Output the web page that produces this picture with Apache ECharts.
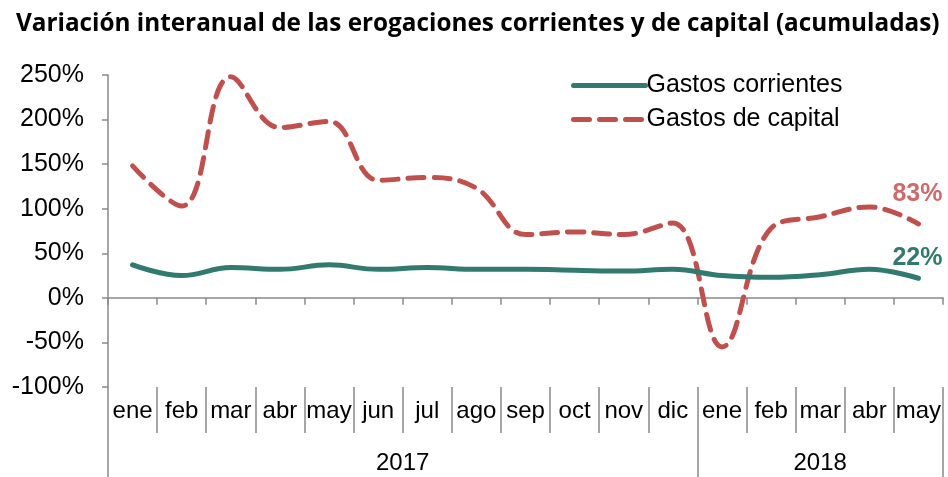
<!DOCTYPE html>
<html>
<head>
<meta charset="utf-8">
<script src="https://cdn.jsdelivr.net/npm/echarts@6/dist/echarts.min.js"></script>
<style>
  html, body { margin: 0; padding: 0; background: #fff; }
  #main { width: 948px; height: 477px; }
</style>
</head>
<body>
<div id="main"></div>
<script>
// meses y años del eje
var months = ['ene', 'feb', 'mar', 'abr', 'may', 'jun', 'jul', 'ago', 'sep', 'oct', 'nov', 'dic',
              'ene', 'feb', 'mar', 'abr', 'may'];
var years = ['2017', '2018'];
var yearSpans = [12, 5];

// variación interanual en %
var corrientes = [37, 25, 34, 32, 37, 32, 34, 32, 32, 31, 30, 32, 25, 23, 26, 32, 22];
var capital = [148, 103, 248, 191, 198, 132, 135, 123, 71, 74, 71, 84, -55, 78, 91, 102, 83];

// bordes y centros de cada año sobre el eje de 0..17
var yearEdges = [0];
var yearCenters = [];
yearSpans.forEach(function (s, i) {
  yearCenters.push(yearEdges[i] + s / 2);
  yearEdges.push(yearEdges[i] + s);
});

var axisGrey = '#898989';
var labelFont = 'Liberation Sans';
var chart = echarts.init(document.getElementById('main'));

var option = {
  animation: false,
  title: {
    text: 'Variación interanual de las erogaciones corrientes y de capital (acumuladas)',
    left: 11,
    top: 7,
    textStyle: { fontFamily: 'Open Sans', fontWeight: 'bold', fontSize: 24.3, color: '#000' }
  },
  legend: {
    orient: 'vertical',
    left: 566,
    top: 68,
    itemWidth: 72,
    itemHeight: 14,
    itemGap: 9,
    itemStyle: { opacity: 0 },
    lineStyle: { width: 5, cap: 'round' },
    textStyle: { fontFamily: labelFont, fontSize: 25, color: '#000', padding: [0, 0, 0, -4] },
    data: ['Gastos corrientes', 'Gastos de capital']
  },
  grid: { left: 108, right: 5, top: 75, bottom: 90, containLabel: false },
  xAxis: [
    {
      type: 'category',
      data: months,
      boundaryGap: true,
      axisLine: { onZero: true, lineStyle: { color: axisGrey, width: 1.5 } },
      axisTick: { show: true, length: 7, lineStyle: { color: axisGrey, width: 1.5 } },
      axisLabel: { show: false }
    },
    {
      type: 'category',
      data: months,
      position: 'bottom',
      boundaryGap: true,
      axisLine: { show: false, onZero: false },
      axisTick: { show: true, length: 46, interval: 0, lineStyle: { color: axisGrey, width: 1.5 } },
      axisLabel: { margin: 12, fontFamily: labelFont, fontSize: 24, color: '#000', interval: 0 }
    },
    {
      type: 'value',
      min: 0,
      max: months.length,
      position: 'bottom',
      axisLine: { show: false, onZero: false },
      splitLine: { show: false },
      axisTick: { show: true, length: 95, customValues: yearEdges, lineStyle: { color: axisGrey, width: 1.5 } },
      axisLabel: {
        margin: 64,
        fontFamily: labelFont,
        fontSize: 24,
        color: '#000',
        customValues: yearCenters,
        formatter: function (v) {
          var i = yearCenters.indexOf(v);
          return i >= 0 ? years[i] : '';
        }
      }
    }
  ],
  yAxis: {
    type: 'value',
    min: -100,
    max: 250,
    interval: 50,
    axisLine: { show: true, lineStyle: { color: axisGrey, width: 1.5 } },
    axisTick: { show: true, length: 6, lineStyle: { color: axisGrey, width: 1.5 } },
    splitLine: { show: false },
    axisLabel: {
      margin: 24,
      fontFamily: labelFont,
      fontSize: 25,
      color: '#000',
      formatter: '{value}%'
    }
  },
  series: [
    {
      name: 'Gastos corrientes',
      type: 'line',
      data: corrientes,
      smooth: 0.4,
      symbol: 'none',
      color: '#317a70',
      lineStyle: { width: 5, color: '#317a70', cap: 'round' },
      endLabel: {
        show: true,
        formatter: '{c}%',
        offset: [-34, -20],
        color: '#317a70',
        fontFamily: labelFont,
        fontWeight: 'bold',
        fontSize: 25
      },
      z: 3
    },
    {
      name: 'Gastos de capital',
      type: 'line',
      data: capital,
      smooth: 0.4,
      symbol: 'none',
      color: '#c0504d',
      lineStyle: { width: 5, color: '#c0504d', type: [16, 10], cap: 'round' },
      endLabel: {
        show: true,
        formatter: '{c}%',
        offset: [-34, -30],
        color: '#d06a6a',
        fontFamily: labelFont,
        fontWeight: 'bold',
        fontSize: 25
      },
      z: 2
    }
  ]
};

chart.setOption(option);
</script>
</body>
</html>
